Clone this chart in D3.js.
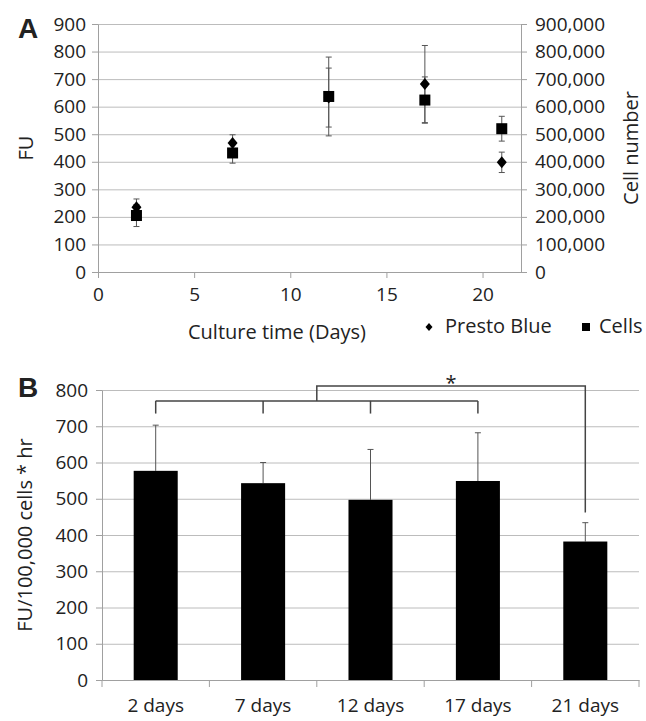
<!DOCTYPE html>
<html>
  <head>
    <meta charset="utf-8">
    <script src="https://cdnjs.cloudflare.com/ajax/libs/d3/7.8.5/d3.min.js"></script>
    <style>
      body { margin: 0; background: #fff; }
      text { font-family: 'Open Sans', sans-serif; fill: #222; }
    </style>
  </head>
  <body>
    <svg width="646" height="721"></svg>
    <script>
      // panel A data
      const days = [2, 7, 12, 17, 21];
      const prestoBlue = [235, 468, 633, 682, 398];
      const prestoBlueErr = [30, 30, 107, 140, 37];
      const cells = [205000, 432000, 637000, 624000, 520000];
      const cellsErr = [40000, 37000, 143000, 84000, 45000];
      const xTicksA = [0, 5, 10, 15, 20];

      // panel B data
      const groups = ['2 days', '7 days', '12 days', '17 days', '21 days'];
      const fuPerCell = [577, 543, 497, 549, 382];
      const fuPerCellErr = [126, 57, 139, 133, 52];
      // significance bracket levels (y values)
      const bracketLow = 770, bracketLegs = 735, bracketHigh = 811, bracketEnd = 462;

      const svg = d3.select('svg');
      const gridColor = '#bcbcbc';
      const axisColor = '#a0a0a0';
      const fs = 19;

      // ---------- panel A ----------
      const xA = d3.scaleLinear().domain([0, 22]).range([98, 521]);
      const yA = d3.scaleLinear().domain([0, 900]).range([272, 24]);
      const yA2 = d3.scaleLinear().domain([0, 900000]).range([272, 24]);

      const gA = svg.append('g');

      // gridlines
      gA.append('g')
        .attr('transform', `translate(${xA(0)},0)`)
        .call(d3.axisLeft(yA).ticks(9).tickSize(-(xA(22) - xA(0))).tickFormat(''))
        .call(g => g.select('.domain').remove())
        .selectAll('line').attr('stroke', gridColor);

      const styleAxis = g => {
        g.select('.domain').attr('stroke', axisColor);
        g.selectAll('.tick line').attr('stroke', axisColor);
        g.selectAll('text').style('font-size', fs + 'px').attr('fill', '#222');
      };

      gA.append('g')
        .attr('transform', `translate(${xA(0)},0)`)
        .call(d3.axisLeft(yA).ticks(9).tickSize(6).tickSizeOuter(0).tickPadding(6))
        .call(styleAxis);

      gA.append('g')
        .attr('transform', `translate(${xA(22)},0)`)
        .call(d3.axisRight(yA2).ticks(9).tickFormat(d3.format(',')).tickSize(6).tickSizeOuter(0).tickPadding(8))
        .call(styleAxis);

      gA.append('g')
        .attr('transform', `translate(0,${yA(0)})`)
        .call(d3.axisBottom(xA).tickValues(xTicksA).tickSize(6).tickSizeOuter(0).tickPadding(10))
        .call(styleAxis);

      // error bars
      const errBars = (g, vals, errs, scale) => {
        days.forEach((d, i) => {
          const x = xA(d);
          const lo = scale(vals[i] - errs[i]), hi = scale(vals[i] + errs[i]);
          g.append('line').attr('x1', x).attr('x2', x).attr('y1', lo).attr('y2', hi)
            .attr('stroke', '#555').attr('stroke-width', 1);
          [lo, hi].forEach(y => g.append('line')
            .attr('x1', x - 3).attr('x2', x + 3).attr('y1', y).attr('y2', y)
            .attr('stroke', '#555').attr('stroke-width', 1));
        });
      };
      errBars(gA, prestoBlue, prestoBlueErr, yA);
      errBars(gA, cells, cellsErr, yA2);

      const diamond = 'M0,-6L5,0L0,6L-5,0Z';
      gA.selectAll('path.pb').data(days).enter().append('path')
        .attr('class', 'pb')
        .attr('d', diamond)
        .attr('transform', (d, i) => `translate(${xA(d)},${yA(prestoBlue[i])})`)
        .attr('fill', '#000');

      gA.selectAll('rect.cells').data(days).enter().append('rect')
        .attr('class', 'cells')
        .attr('x', d => xA(d) - 5.5)
        .attr('y', (d, i) => yA2(cells[i]) - 5.5)
        .attr('width', 11).attr('height', 11)
        .attr('fill', '#000');

      // titles
      gA.append('text').attr('x', 18).attr('y', 38)
        .style('font-family', 'Liberation Sans, Arial, sans-serif')
        .style('font-weight', 'bold').style('font-size', '28px').attr('fill', '#000').text('A');

      gA.append('text')
        .attr('transform', `translate(33,${(yA(0) + yA(900)) / 2}) rotate(-90)`)
        .attr('text-anchor', 'middle').style('font-size', '20px').text('FU');

      gA.append('text')
        .attr('transform', `translate(638,${(yA(0) + yA(900)) / 2}) rotate(-90)`)
        .attr('text-anchor', 'middle').style('font-size', '20px').text('Cell number');

      gA.append('text').attr('x', 277).attr('y', 339)
        .attr('text-anchor', 'middle').style('font-size', '20px').text('Culture time (Days)');

      // legend
      const leg = gA.append('g');
      leg.append('path').attr('d', 'M0,-4L3.5,0L0,4L-3.5,0Z')
        .attr('transform', 'translate(429,327)').attr('fill', '#000');
      leg.append('text').attr('x', 445).attr('y', 333).style('font-size', '20px').text('Presto Blue');
      leg.append('rect').attr('x', 582).attr('y', 323).attr('width', 8).attr('height', 8).attr('fill', '#000');
      leg.append('text').attr('x', 599).attr('y', 333).style('font-size', '20px').text('Cells');

      // ---------- panel B ----------
      const xB = d3.scaleBand().domain(groups).range([102, 639]).paddingInner(0.59).paddingOuter(0.295);
      const yB = d3.scaleLinear().domain([0, 800]).range([680, 390]);
      const gB = svg.append('g');

      gB.append('g')
        .attr('transform', `translate(102,0)`)
        .call(d3.axisLeft(yB).ticks(8).tickSize(-(639 - 102)).tickFormat(''))
        .call(g => g.select('.domain').remove())
        .selectAll('line').attr('stroke', gridColor);

      gB.append('g')
        .attr('transform', `translate(102,0)`)
        .call(d3.axisLeft(yB).ticks(8).tickSize(6).tickSizeOuter(0).tickPadding(8))
        .call(styleAxis);

      gB.append('g')
        .attr('transform', `translate(0,${yB(0)})`)
        .call(d3.axisBottom(xB).tickSize(0).tickSizeOuter(0).tickPadding(19))
        .call(styleAxis);

      // ticks at category boundaries
      const step = xB.step();
      const bounds = d3.range(groups.length + 1).map(i => 102 + i * step);
      gB.selectAll('line.sep').data(bounds).enter().append('line')
        .attr('class', 'sep')
        .attr('x1', d => d).attr('x2', d => d)
        .attr('y1', yB(0)).attr('y2', yB(0) + 7)
        .attr('stroke', axisColor);

      // error bars (upper only)
      groups.forEach((g, i) => {
        const cx = xB(g) + xB.bandwidth() / 2;
        gB.append('line').attr('x1', cx).attr('x2', cx)
          .attr('y1', yB(fuPerCell[i])).attr('y2', yB(fuPerCell[i] + fuPerCellErr[i]))
          .attr('stroke', '#555');
        gB.append('line').attr('x1', cx - 3).attr('x2', cx + 3)
          .attr('y1', yB(fuPerCell[i] + fuPerCellErr[i])).attr('y2', yB(fuPerCell[i] + fuPerCellErr[i]))
          .attr('stroke', '#555');
      });

      gB.selectAll('rect.bar').data(groups).enter().append('rect')
        .attr('class', 'bar')
        .attr('x', d => xB(d))
        .attr('y', (d, i) => yB(fuPerCell[i]))
        .attr('width', xB.bandwidth())
        .attr('height', (d, i) => yB(0) - yB(fuPerCell[i]))
        .attr('fill', '#000');

      // significance brackets
      const cxB = g => xB(g) + xB.bandwidth() / 2;
      const br = gB.append('g').attr('fill', 'none').attr('stroke', '#444').attr('stroke-width', 1.5);
      br.append('line').attr('x1', cxB(groups[0])).attr('x2', cxB(groups[3]))
        .attr('y1', yB(bracketLow)).attr('y2', yB(bracketLow));
      groups.slice(0, 4).forEach(g => br.append('line')
        .attr('x1', cxB(g)).attr('x2', cxB(g))
        .attr('y1', yB(bracketLow)).attr('y2', yB(bracketLegs)));
      const midX = (cxB(groups[0]) + cxB(groups[3])) / 2;
      br.append('path').attr('d',
        `M${midX},${yB(bracketLow)}V${yB(bracketHigh)}H${cxB(groups[4])}V${yB(bracketEnd)}`);
      gB.append('text').attr('x', (midX + cxB(groups[4])) / 2).attr('y', yB(bracketHigh) + 4)
        .attr('text-anchor', 'middle').style('font-size', '20px').text('*');

      gB.append('text').attr('x', 18).attr('y', 397)
        .style('font-family', 'Liberation Sans, Arial, sans-serif')
        .style('font-weight', 'bold').style('font-size', '28px').attr('fill', '#000').text('B');

      gB.append('text')
        .attr('transform', `translate(32,${(yB(0) + yB(800)) / 2}) rotate(-90)`)
        .attr('text-anchor', 'middle').style('font-size', '20px').text('FU/100,000 cells * hr');
    </script>
  </body>
</html>
